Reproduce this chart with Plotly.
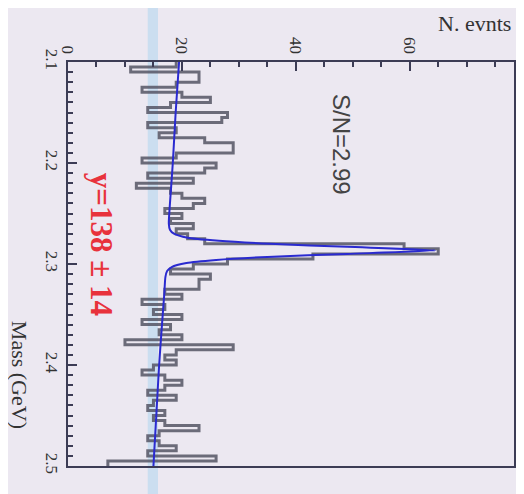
import plotly.graph_objects as go

# ---- data ----
bin_low = 2.100
bin_width = 0.005
counts = [19, 11, 23, 23, 19, 13, 20, 25, 18, 14,
          28, 27, 14, 19, 16, 24, 29, 29, 19, 13,
          26, 24, 14, 22, 12, 18, 20, 24, 22, 17,
          20, 18, 22, 19, 21, 24, 59, 65, 43, 28,
          22, 18, 25, 23, 23, 17, 20, 13, 17, 15,
          20, 13, 18, 16, 20, 10, 29, 19, 17, 19,
          15, 13, 17, 20, 17, 14, 19, 15, 14, 17,
          15, 17, 23, 16, 14, 16, 19, 14, 26, 7]

fit_mass = [2.100, 2.150, 2.200, 2.240, 2.260, 2.266, 2.270, 2.274, 2.277,
            2.280, 2.283, 2.2865, 2.290, 2.293, 2.296, 2.299, 2.303, 2.307,
            2.313, 2.330, 2.360, 2.400, 2.450, 2.500]
fit_vals = [19.5, 18.9, 18.4, 17.9, 17.7, 17.9, 18.6, 21.0, 26.5,
            35.5, 49.0, 64.5, 49.0, 35.0, 26.0, 20.8, 18.2, 17.4,
            17.1, 16.9, 16.5, 16.0, 15.5, 15.0]

x_ticks = [0, 20, 40, 60]
y_ticks = [2.1, 2.2, 2.3, 2.4, 2.5]

# step outline built from the bins
edges = [bin_low + i * bin_width for i in range(len(counts) + 1)]
step_x = counts + [counts[-1]]
step_y = edges

bg = "#ece8f1"
axis_col = "#3c3c55"
serif = "Liberation Serif, Times New Roman, serif"

fig = go.Figure()
fig.add_trace(go.Scatter(x=step_x, y=step_y, mode="lines",
                         line=dict(color="rgba(85,85,100,0.85)", width=3, shape="vh"),
                         hoverinfo="skip"))
fig.add_trace(go.Scatter(x=fit_vals, y=fit_mass, mode="lines",
                         line=dict(color="#2a2ad0", width=2, shape="spline", smoothing=0.6),
                         hoverinfo="skip"))

# light blue vertical band (scan artifact)
fig.add_shape(type="rect", xref="x", yref="paper", x0=14.0, x1=15.8, y0=-0.1, y1=1.2,
              fillcolor="rgba(165,210,240,0.45)", line_width=0, layer="below")

fig.update_layout(
    width=516, height=486,
    margin=dict(l=60, r=8, t=54, b=28),
    paper_bgcolor=bg, plot_bgcolor=bg,
    showlegend=False,
    font=dict(family=serif, size=16, color="#333333"),
    xaxis=dict(range=[0, 78.3], side="top", tickvals=x_ticks, ticktext=[str(v) for v in x_ticks],
               tickangle=90, ticks="inside", ticklen=9, tickwidth=2, tickcolor=axis_col,
               minor=dict(dtick=5, ticks="inside", ticklen=5, tickwidth=2, tickcolor=axis_col),
               showline=True, linecolor=axis_col, linewidth=2, mirror=True,
               showgrid=False, zeroline=False, tickfont=dict(size=17, family=serif, color="#333")),
    yaxis=dict(range=[2.5, 2.1], tickvals=y_ticks, ticktext=[f"{v:.1f}" for v in y_ticks],
               tickangle=90, ticks="inside", ticklen=9, tickwidth=2, tickcolor=axis_col,
               minor=dict(dtick=0.01, ticks="inside", ticklen=5, tickwidth=1.5, tickcolor=axis_col),
               showline=True, linecolor=axis_col, linewidth=2, mirror=True,
               showgrid=False, zeroline=False, tickfont=dict(size=17, family=serif, color="#333")),
)

fig.add_annotation(xref="paper", yref="paper", x=1.0, y=1.0, yshift=39, xshift=-1,
                   xanchor="right", yanchor="middle", text="N. evnts", showarrow=False,
                   font=dict(family=serif, size=22, color="#333"))
fig.add_annotation(xref="paper", yref="paper", x=-0.107, y=0.225, xanchor="center",
                   yanchor="middle", text="Mass (GeV)", textangle=90, showarrow=False,
                   font=dict(family=serif, size=22, color="#333"))
fig.add_annotation(xref="x", yref="y", x=47.9, y=2.182, xanchor="center", yanchor="middle",
                   text="S/N=2.99", textangle=90, showarrow=False,
                   font=dict(family="Liberation Sans, Arial, sans-serif", size=24, color="#444"))
fig.add_annotation(xref="x", yref="y", x=5.8, y=2.28, xanchor="center", yanchor="middle",
                   text="<b>y=138 ± 14</b>", textangle=90, showarrow=False,
                   font=dict(family=serif, size=31, color="#e8323c"))

fig.write_html("out.html")
